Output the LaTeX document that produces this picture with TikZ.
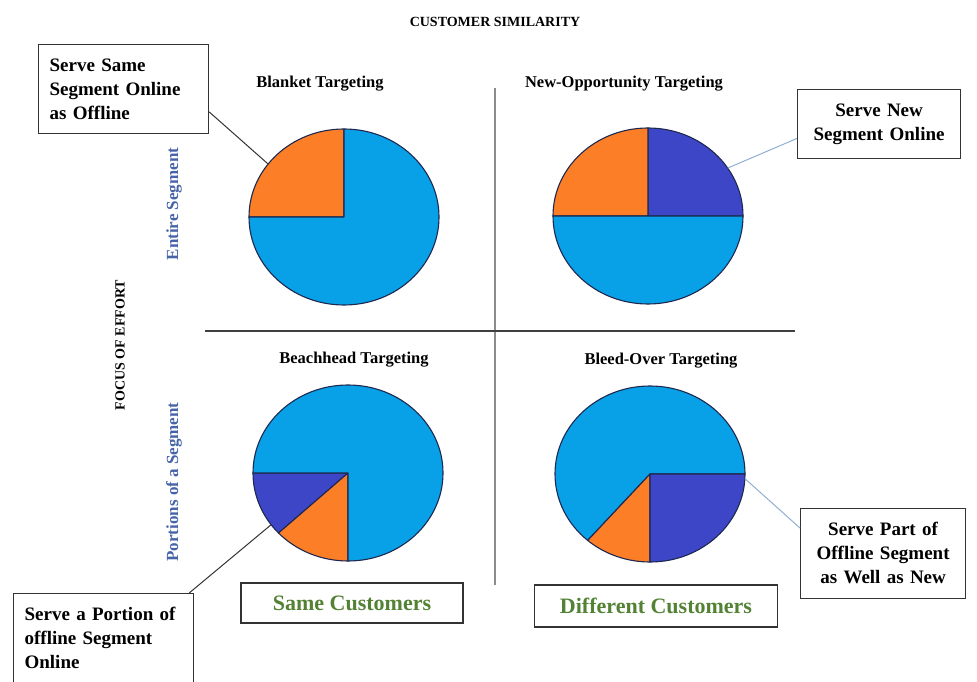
\documentclass[tikz,border=0pt]{standalone}
\usepackage{fontspec}
\setmainfont{Liberation Serif}
\usetikzlibrary{positioning}
\definecolor{pieblue}{RGB}{8,160,230}
\definecolor{pieorange}{RGB}{252,126,38}
\definecolor{piedark}{RGB}{62,70,200}
\definecolor{pieline}{RGB}{30,40,80}
\definecolor{segblue}{RGB}{72,100,168}
\definecolor{custgreen}{RGB}{84,130,53}
\definecolor{leadblue}{RGB}{145,175,210}
% one wedge of an (elliptic) pie: centre, start angle, end angle, colour
\newcommand{\pieslice}[4]{%
  \filldraw[slice,fill=#4] (#1) -- ++(#2:95pt and 88pt)
    arc[start angle=#2,end angle=#3,x radius=95pt,y radius=88pt] -- cycle;}
\tikzset{%
  slice/.style={draw=pieline,line width=1.1pt,line join=round},
  head/.style={font=\fontsize{16.5}{19}\selectfont\bfseries},
  axis/.style={font=\fontsize{14}{17}\selectfont\bfseries},
  seg/.style={rotate=90,text=segblue,font=\fontsize{17}{20}\selectfont\bfseries},
  callout/.style={draw=black!80,line width=1.2pt,font=\fontsize{19}{24}\selectfont\bfseries,
    inner xsep=11pt,inner ysep=14pt,anchor=north west},
  cust/.style={draw=black!80,line width=1.2pt,text=custgreen,
    font=\fontsize{22}{26}\selectfont\bfseries,minimum height=40pt},
  lead/.style={black!80,line width=1pt},
  leadb/.style={leadblue,line width=1pt}
}

\begin{document}
\begin{tikzpicture}[x=1pt,y=1pt]
  \useasboundingbox (0,0) rectangle (977,681);
  \clip (0,0) rectangle (977,681);

  % quadrant dividers
  \draw[black!45,line width=1.8pt] (495,96) -- (495,593);
  \draw[black!75,line width=1.4pt] (205,350) -- (795,350);

  \node[axis] (sim) at (495,659) {CUSTOMER SIMILARITY};
  \node[axis,rotate=90] (focus) at (120,336) {FOCUS OF EFFORT};
  \node[seg] (entire) at (174,477) {Entire Segment};
  \node[seg] (portion) at (174,199) {Portions of a Segment};

  % pie centres
  \coordinate (p1) at (344,464);
  \coordinate (p2) at (648,465);
  \coordinate (p3) at (348,208);
  \coordinate (p4) at (650,207);

  \pieslice{p1}{90}{180}{pieorange}
  \pieslice{p1}{180}{450}{pieblue}

  \pieslice{p2}{0}{90}{piedark}
  \pieslice{p2}{90}{180}{pieorange}
  \pieslice{p2}{180}{360}{pieblue}

  \pieslice{p3}{180}{223}{piedark}
  \pieslice{p3}{223}{270}{pieorange}
  \pieslice{p3}{270}{540}{pieblue}

  \pieslice{p4}{0}{229}{pieblue}
  \pieslice{p4}{229}{270}{pieorange}
  \pieslice{p4}{270}{360}{piedark}

  \node[head] (h1) at (320,597) {Blanket Targeting};
  \node[head] (h2) at (624,597) {New-Opportunity Targeting};
  \node[head] (h3) at (354,321) {Beachhead Targeting};
  \node[head] (h4) at (661,320) {Bleed-Over Targeting};

  % callouts
  \node[callout,align=left,text width=148pt] (cTL) at (38,637)
    {Serve Same\\Segment Online\\as Offline};
  \node[callout,align=center,text width=141pt] (cTR) at (797,592)
    {Serve New\\Segment Online};
  \node[callout,align=center,text width=143pt] (cBR) at (800,173)
    {Serve Part of\\Offline Segment\\as Well as New};
  \node[callout,align=left,text width=158pt,text depth=70pt] (cBL) at (13,88)
    {Serve a Portion of\\offline Segment\\Online};

  \node[cust,minimum width=222pt] (same) at (352,78) {Same Customers};
  \node[cust,minimum width=243pt,minimum height=42pt] (diff) at (656,75) {Different Customers};

  % leader lines to the pies
  \path (p1) ++(143:95pt and 88pt) coordinate (e1);
  \path (p2) ++(33:95pt and 88pt) coordinate (e2);
  \path (p3) ++(216:95pt and 88pt) coordinate (e3);
  \path (p4) ++(-3:95pt and 88pt) coordinate (e4);
  \draw[lead] (cTL.-15) -- (e1);
  \draw[leadb] (cTR.190) -- (e2);
  \draw[lead] ([xshift=-5pt]cBL.north east) -- (e3);
  \draw[leadb] (cBR.163) -- (e4);
\end{tikzpicture}
\end{document}
